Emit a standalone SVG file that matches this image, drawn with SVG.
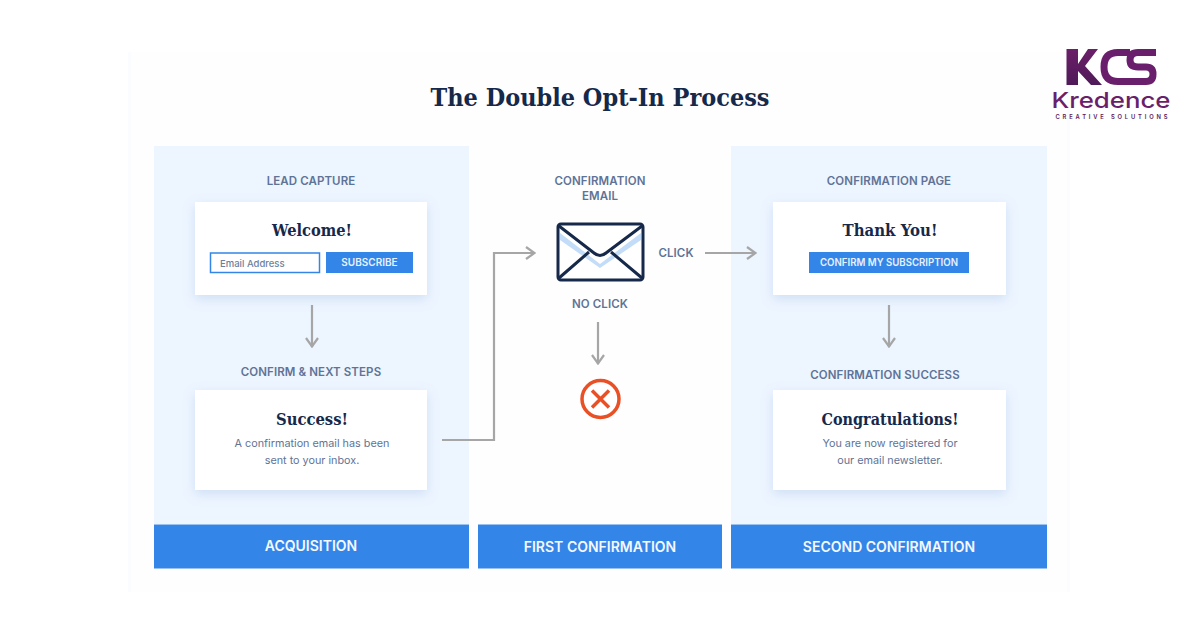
<svg xmlns="http://www.w3.org/2000/svg" width="1200" height="630" viewBox="0 0 1200 630">
<defs>
<filter id="sh" x="-15%" y="-20%" width="130%" height="150%"><feDropShadow dx="0" dy="4" stdDeviation="6" flood-color="#7fa6d8" flood-opacity="0.28"/></filter>
<linearGradient id="lg" x1="0" y1="0" x2="0" y2="1"><stop offset="0" stop-color="#6b1f68"/><stop offset="1" stop-color="#4f1a58"/></linearGradient>
<marker id="ah" viewBox="0 0 12 14" refX="11" refY="7" markerWidth="12" markerHeight="14" markerUnits="userSpaceOnUse" orient="auto"><path d="M2 1L10.500 7L2 13" fill="none" stroke="#a6a6a6" stroke-width="2.200"/></marker>
</defs>
<style>
.lab{font-family:Inter,"Noto Sans","Liberation Sans",sans-serif;font-size:11.5px;font-weight:600;fill:#5f7396;text-anchor:middle;letter-spacing:.1px}
.head{font-family:"DejaVu Serif","Liberation Serif",serif;font-weight:700;fill:#16294a;text-anchor:middle}
.body{font-family:Inter,"Noto Sans","Liberation Sans",sans-serif;font-size:10.8px;fill:#5f7396;text-anchor:middle}
.band{font-family:Inter,"Noto Sans","Liberation Sans",sans-serif;font-size:14px;font-weight:600;fill:#f4f8ff;text-anchor:middle}
.btn{font-family:Inter,"Noto Sans","Liberation Sans",sans-serif;font-size:10px;font-weight:600;fill:#e8f1fd;text-anchor:middle}
.card{fill:#fff;filter:url(#sh)}
.col{fill:#edf5ff}
.bar{fill:#3485e8}
.blue{fill:#3485e8}
.conn{fill:none;stroke:#a6a6a6;stroke-width:2.200;marker-end:url(#ah)}
</style>
<rect width="1200" height="630" fill="#fff"/>
<rect x="128" y="52" width="942" height="540" fill="#fefefe"/>
<rect x="128" y="52" width="3" height="540" fill="#fafcff"/>
<rect x="1067" y="52" width="3" height="540" fill="#fafcff"/>
<text id="title" x="600" y="106" class="head" font-size="25" textLength="339" lengthAdjust="spacingAndGlyphs">The Double Opt-In Process</text>
<rect class="col" x="154" y="146" width="315" height="378"/>
<rect class="col" x="731" y="146" width="316" height="378"/>
<g id="connectors">
<path class="conn" d="M312 305V347"/>
<path class="conn" d="M442 440H494V253H535"/>
<path class="conn" d="M705 253H756"/>
<path class="conn" d="M598 322V364"/>
<path class="conn" d="M889 305V347"/>
</g>
<g id="lead-capture">
<text x="311" y="185" class="lab">LEAD CAPTURE</text>
<rect class="card" x="195" y="202" width="232" height="93"/>
<text x="312" y="236" class="head" font-size="16.500" textLength="80" lengthAdjust="spacingAndGlyphs">Welcome!</text>
<rect x="210.500" y="253" width="109" height="19.500" fill="#fff" stroke="#3485e8" stroke-width="1.500"/>
<text x="220" y="267" font-family="Inter,'Liberation Sans',sans-serif" font-size="9.500" font-weight="500" fill="#6c7f9e">Email Address</text>
<rect class="blue" x="326" y="252" width="87" height="21"/>
<text x="369.500" y="266" class="btn">SUBSCRIBE</text>
</g>
<g id="confirm-next-steps">
<text x="311" y="376" class="lab">CONFIRM &amp; NEXT STEPS</text>
<rect class="card" x="195" y="390" width="232" height="100"/>
<text x="312" y="425" class="head" font-size="16.500" textLength="72" lengthAdjust="spacingAndGlyphs">Success!</text>
<text x="312" y="447" class="body">A confirmation email has been</text>
<text x="312" y="464" class="body">sent to your inbox.</text>
</g>
<g id="confirmation-email">
<text x="600" y="185" class="lab">CONFIRMATION</text>
<text x="600" y="200" class="lab">EMAIL</text>
<rect x="558" y="224" width="85" height="56" rx="3" fill="#fff"/>
<path d="M560 233L600 264L641 233V240L600 268L560 240Z" fill="#c3dcf7"/>
<rect x="558" y="224" width="85" height="56" rx="3" fill="none" stroke="#16294a" stroke-width="3"/>
<path d="M559 226L594 253Q600 258 606 253L642 226M589 252L559 278M611 252L642 278" fill="none" stroke="#16294a" stroke-width="3"/>
<text x="676" y="257" class="lab">CLICK</text>
<text x="600" y="308" class="lab">NO CLICK</text>
</g>
<g id="rejected">
<circle cx="600.500" cy="399" r="18.500" fill="#fff" stroke="#ea5026" stroke-width="3.500"/>
<path d="M592 390.500L609 407.500M609 390.500L592 407.500" stroke="#ea5026" stroke-width="3.500" fill="none"/>
</g>
<g id="confirmation-page">
<text x="889" y="185" class="lab">CONFIRMATION PAGE</text>
<rect class="card" x="773" y="202" width="233" height="93"/>
<text x="890" y="236" class="head" font-size="16.500" textLength="95" lengthAdjust="spacingAndGlyphs">Thank You!</text>
<rect class="blue" x="809" y="252" width="160" height="21"/>
<text x="889" y="266" class="btn" font-size="9.500" textLength="138" lengthAdjust="spacingAndGlyphs">CONFIRM MY SUBSCRIPTION</text>
</g>
<g id="confirmation-success">
<text x="885" y="379" class="lab">CONFIRMATION SUCCESS</text>
<rect class="card" x="773" y="390" width="233" height="100"/>
<text x="890" y="425" class="head" font-size="16.500" textLength="137" lengthAdjust="spacingAndGlyphs">Congratulations!</text>
<text x="890" y="447" class="body">You are now registered for</text>
<text x="890" y="464" class="body">our email newsletter.</text>
</g>
<g id="acquisition"><rect class="bar" x="154" y="524.500" width="315" height="44"/><text x="311" y="551" class="band">ACQUISITION</text></g>
<g id="first-confirmation"><rect class="bar" x="478" y="524.500" width="244" height="44"/><text x="600" y="552" class="band">FIRST CONFIRMATION</text></g>
<g id="second-confirmation"><rect class="bar" x="731" y="524.500" width="316" height="44"/><text x="889" y="552" class="band">SECOND CONFIRMATION</text></g>
<g id="logo">
<path d="M1156 52.500H1138Q1130 52.500 1130 60Q1130 67 1138 67H1146Q1153 67 1153 74Q1153 81.500 1146 81.500H1118Q1104 81.500 1104 67Q1104 52.500 1118 52.500H1130" fill="none" stroke="#6a1f6c" stroke-width="7"/>
<path d="M1066.500 49H1078V64L1088 49H1098L1085 66L1102 85H1091L1078 71V85H1066.500Z" fill="url(#lg)"/>
<text x="1111" y="108" font-family="Inter,'Liberation Sans',sans-serif" font-size="21.500" font-weight="500" fill="#6a1f6c" text-anchor="middle" textLength="119" lengthAdjust="spacingAndGlyphs">Kredence</text>
<text x="1111.500" y="118.700" font-family="Inter,'Liberation Sans',sans-serif" font-size="5.800" font-weight="600" fill="#5a1a5e" text-anchor="middle" textLength="112">CREATIVE SOLUTIONS</text>
</g>
</svg>
